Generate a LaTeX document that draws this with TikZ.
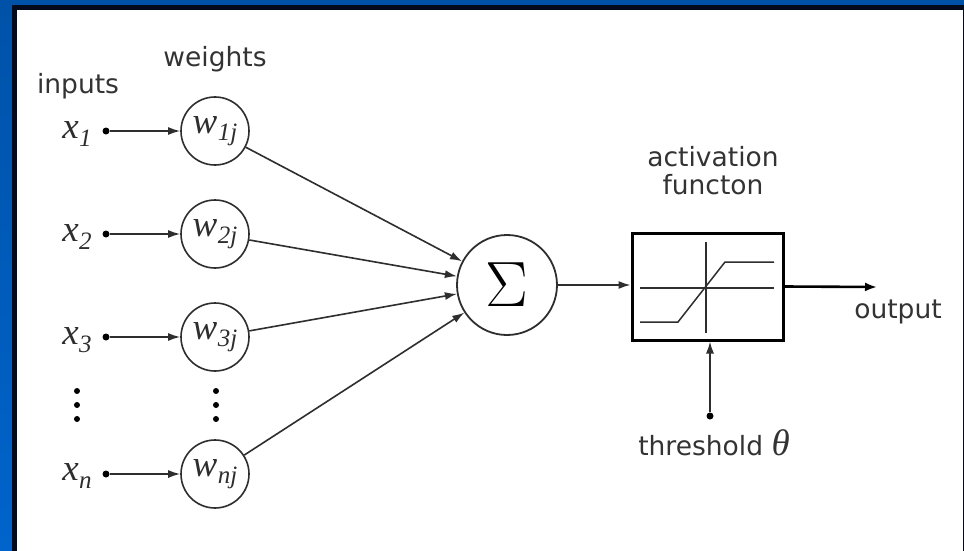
\RequirePackage{fix-cm}
\documentclass[tikz,border=0pt]{standalone}
\usepackage[no-math]{fontspec}
\setmainfont{DejaVu Sans}
\newfontfamily\labfam{Liberation Serif}
\usetikzlibrary{arrows.meta}
\definecolor{bgtop}{HTML}{0052A8}
\definecolor{bgbot}{HTML}{0064CC}
\definecolor{frame}{HTML}{020A1C}
\definecolor{ink}{HTML}{2E2E2E}
\definecolor{txt}{HTML}{333333}
% italic variable with a lowered index
\newcommand{\labmain}{\fontsize{37}{37}\labfam\itshape}
\newcommand{\labsub}{\fontsize{25}{25}\labfam\itshape}
\newcommand{\vlab}[2]{{\labmain #1}\kern0.5pt\raisebox{-7.5pt}{\labsub #2}}
\begin{document}
\begin{tikzpicture}[x=1pt,y=-1pt,
  lbl/.style={text=txt,font=\fontsize{26.5}{28}\selectfont,inner sep=0pt},
  mlbl/.style={text=ink,inner sep=0pt},
  wnode/.style={circle,draw=ink,line width=1.6pt,minimum size=68pt,inner sep=0pt,text=ink},
  sumnode/.style={circle,draw=ink,line width=1.8pt,minimum size=100pt,inner sep=0pt,
                font=\fontsize{64}{64}\selectfont},
  actbox/.style={rectangle,draw=black,line width=3pt,minimum width=151pt,
                minimum height=107pt,inner sep=0pt},
  dotn/.style={circle,fill=black,minimum size=7pt,inner sep=0pt},
  arr/.style={draw=ink,line width=1.6pt,-{Latex[length=12pt,width=8pt]}},
  arrthick/.style={draw=black,line width=2.6pt,-{Latex[length=12pt,width=9pt]}},
  plotline/.style={draw=ink,line width=1.5pt}]
% page: blue backdrop, dark frame and white sheet
\useasboundingbox (0,0) rectangle (964,551);
\shade[top color=bgtop,bottom color=bgbot] (0,0) rectangle (964,551);
\fill[frame] (12,5) rectangle (964,551);
\fill[white] (17,10) rectangle (962.5,551);

% column headings
\node[lbl] (hin) at (78,86) {inputs};
\node[lbl] (hw) at (215,59) {weights};

% inputs x_i and weights w_ij
\node[mlbl] (x1) at (77,134) {\vlab{x}{1}};
\node[mlbl] (x2) at (77,237) {\vlab{x}{2}};
\node[mlbl] (x3) at (77,340) {\vlab{x}{3}};
\node[mlbl] (xn) at (77,476) {\vlab{x}{n}};

\node[dotn] (d1) at (106,131) {};
\node[dotn] (d2) at (106,234) {};
\node[dotn] (d3) at (106,337) {};
\node[dotn] (dn) at (106,474) {};

\node[wnode] (w1) at (215,131) {\vlab{w}{1j}};
\node[wnode] (w2) at (215,234) {\vlab{w}{2j}};
\node[wnode] (w3) at (215,337) {\vlab{w}{3j}};
\node[wnode] (wn) at (215,474) {\vlab{w}{nj}};

\foreach \i in {1,2,3,n}{\draw[arr] (d\i) -- (w\i);}

% vertical ellipses
\foreach \yy in {391,405,419}{
  \fill[black] (77,\yy) circle (3pt);
  \fill[black] (216,\yy) circle (3pt);
}

% summation
\node[sumnode] (sum) at (507,285) {$\Sigma$};
\foreach \i in {1,2,3,n}{\draw[arr] (w\i) -- (sum);}

% activation function block
\node[lbl,align=center] (hact) at (713,171) {activation\\functon};
\node[actbox] (act) at (707.5,286.5) {};
\draw[plotline] (640,288) -- (774,288);
\draw[plotline] (706,242) -- (706,333);
\draw[plotline] (640,322) -- (678,322) -- (725,262) -- (774,262);

\draw[arr] (sum) -- (sum -| act.west);

% output
\coordinate (out) at (877,287);
\draw[arrthick] (act.east) -- (out);
\node[lbl] (hout) at (898,312) {output};

% threshold
\node[dotn] (th) at (710,416) {};
\draw[arr] (th) -- (th |- act.south);
\node[lbl] (hth) at (714,443) {threshold {\labmain θ}};
\end{tikzpicture}
\end{document}
